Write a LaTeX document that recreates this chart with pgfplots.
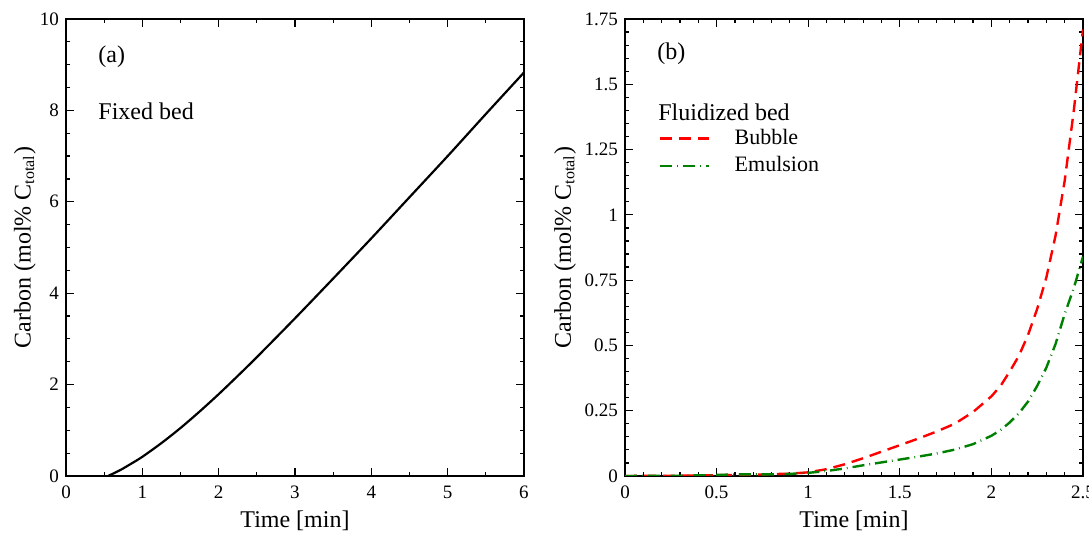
\documentclass[border=0pt]{standalone}
\usepackage{pgfplots}
\pgfplotsset{compat=1.18}
\usepackage{fontspec}
\setmainfont{Liberation Serif}
\definecolor{dgreen}{RGB}{0,128,0}
\pgfplotsset{
  myax/.style={
    scale only axis, width=229pt, height=228.5pt, anchor=south west,
    axis line style={line width=0.8pt},
    every tick/.style={black, line width=0.6pt},
    major tick length=3.8pt, minor tick length=2.2pt,
    tick align=inside,
    xtick pos=both, ytick pos=both,
    /pgf/number format/assume math mode=true,
    tick label style={font=\fontsize{9.5}{11}\selectfont},
    label style={font=\fontsize{12}{14}\selectfont},
    xlabel={Time [min]},
    ylabel={Carbon (mol\% C\textsubscript{total})},
    xlabel style={at={(axis description cs:0.5,-0.098)}, anchor=center},
    xticklabel style={yshift=-1.5pt},
  }
}
\begin{document}
\begin{tikzpicture}
\useasboundingbox (0,0) rectangle (544.5pt,267pt);
\begin{axis}[myax, at={(33pt,29pt)},
  xmin=0, xmax=6, ymin=0, ymax=10,
  xtick={0,1,2,3,4,5,6}, minor x tick num=1,
  ytick={0,2,4,6,8,10}, minor y tick num=3,
  ylabel style={at={(axis description cs:-0.09,0.5)}, anchor=center},
]
\addplot[black, line width=1.1pt] coordinates {(0,0)(0.55,0)};
\addplot[black, line width=1.1pt, smooth] coordinates {
(0.55,0)(0.7,0.12)(0.85,0.265)(1,0.42)(1.25,0.72)(1.5,1.05)(1.75,1.41)(2,1.79)(2.25,2.19)(2.5,2.6)(3,3.45)(3.5,4.32)(4,5.2)(4.5,6.1)(5,7.0)(5.5,7.92)(6,8.83)};
\node[anchor=west, font=\fontsize{12}{14}\selectfont, inner sep=0] at (rel axis cs:0.07,0.917) {(a)};
\node[anchor=west, font=\fontsize{12}{14}\selectfont, inner sep=0] at (rel axis cs:0.07,0.797) {Fixed bed};
\end{axis}
\begin{axis}[myax, at={(312.5pt,29pt)},
  xmin=0, xmax=2.5, ymin=0, ymax=1.75,
  xtick={0,0.5,1,1.5,2,2.5}, xticklabels={0,0.5,1,1.5,2,2.5}, minor x tick num=4,
  ytick={0,0.25,0.5,0.75,1,1.25,1.5,1.75},
  yticklabels={0,0.25,0.5,0.75,1,1.25,1.5,1.75}, minor y tick num=4,
  ylabel style={at={(axis description cs:-0.131,0.5)}, anchor=center},
  legend image code/.code={\draw[#1] (0pt,0pt) -- (24.5pt,0pt);},
  legend style={at={(rel axis cs:0.074,0.768)}, anchor=north west, draw=none, fill=none,
    inner sep=0pt, font=\fontsize{11}{13}\selectfont, row sep=0.5pt,
    /tikz/every odd column/.append style={column sep=10pt}},
  legend cell align=left,
]
\addplot[red, line width=1.2pt, dash pattern=on 6pt off 3.5pt] coordinates {
(0,0)(0.3,0.001)(0.5,0.003)(0.7,0.005)(0.9,0.009)(1.0,0.014)(1.1,0.026)(1.2,0.045)(1.3,0.068)(1.4,0.093)(1.5,0.118)(1.6,0.143)(1.7,0.17)(1.8,0.2)(1.9,0.245)(2.0,0.305)(2.05,0.345)(2.1,0.40)(2.15,0.46)(2.2,0.54)(2.25,0.64)(2.3,0.76)(2.35,0.92)(2.4,1.13)(2.45,1.40)(2.5,1.71)};
\addlegendentry{Bubble}
\addplot[dgreen, line width=1.2pt, dash pattern=on 6pt off 2.5pt on 0.4pt off 2.5pt] coordinates {
(0,0)(0.3,0.001)(0.5,0.004)(0.6,0.006)(0.7,0.006)(0.8,0.006)(0.9,0.008)(1.0,0.012)(1.1,0.019)(1.2,0.029)(1.3,0.041)(1.4,0.052)(1.5,0.063)(1.6,0.074)(1.7,0.086)(1.8,0.101)(1.9,0.122)(2.0,0.154)(2.05,0.176)(2.1,0.205)(2.15,0.24)(2.2,0.285)(2.25,0.345)(2.3,0.415)(2.35,0.505)(2.4,0.62)(2.45,0.72)(2.5,0.84)};
\addlegendentry{Emulsion}
\node[anchor=west, font=\fontsize{12}{14}\selectfont, inner sep=0] at (rel axis cs:0.07,0.923) {(b)};
\node[anchor=west, font=\fontsize{12}{14}\selectfont, inner sep=0] at (rel axis cs:0.072,0.796) {Fluidized bed};
\end{axis}
\end{tikzpicture}
\end{document}
